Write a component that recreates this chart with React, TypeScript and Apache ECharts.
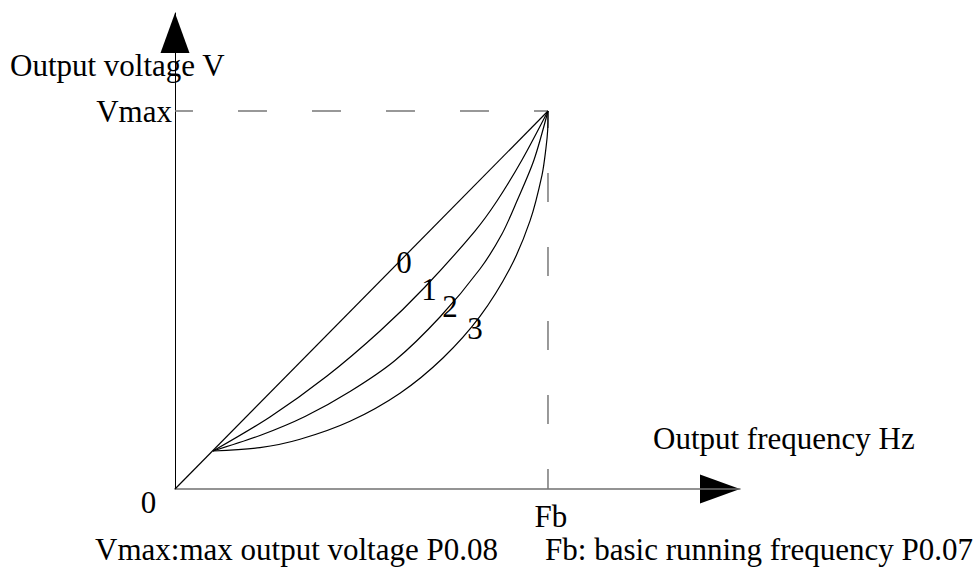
import React, { useEffect, useRef } from 'react';
import * as echarts from 'echarts';

// Axis scale (frequency in Hz, voltage in % of Vmax)
const FB = 50;
const VMAX = 100;
const X_MAX = 75.74;
const Y_MAX = 125.93;

const xTickLabels: Record<number, string> = { 50: 'Fb' };
const yTickLabels: Record<number, string> = { 100: 'Vmax' };

// V/F curves
const curve0 = [[0, 0], [50, 100]];
const curve1 = [
  [5.09, 10.05], [12.73, 19.05], [20.38, 29.89], [27.48, 41.8], [33.51, 53.44],
  [40.21, 68.25], [43.16, 76.19], [46.51, 87.04], [50, 100],
];
const curve2 = [
  [5.09, 10.05], [11.39, 14.15], [17.43, 19.18], [23.46, 25.79], [29.49, 34.0],
  [35.52, 45.5], [40.88, 58.2], [43.83, 67.46], [45.84, 76.19], [48.12, 87.04], [50, 100],
];
const curve3 = [
  [5.09, 10.05], [11.39, 10.93], [16.76, 13.15], [23.46, 17.91], [30.16, 25.34],
  [35.92, 34.66], [40.88, 45.66], [44.91, 58.39], [47.59, 70.93], [49.2, 83.07],
  [49.73, 90.21], [49.96, 95.0], [50, 100],
];

const curveNames = ['0', '1', '2', '3'];
const curveLabelPos = [[30.7, 59.8], [34.05, 52.9], [36.86, 48.15], [40.21, 42.33]];

const dashH = [[FB, VMAX], [0, VMAX]];
const dashV = [[FB, 0], [FB, VMAX]];

const yAxisName = 'Output voltage V';
const xAxisName = 'Output frequency Hz';
const originLabel = '0';
const note1 = 'Vmax:max output voltage P0.08';
const note2 = 'Fb: basic running frequency P0.07';

const FONT = "'Liberation Serif', 'Times New Roman', serif";
const FS = 31;
const LH = 24;

export default function App() {
  const ref = useRef<HTMLDivElement>(null);

  useEffect(() => {
    if (!ref.current) return;
    const chart = echarts.init(ref.current, null, { renderer: 'svg' });
    const curveStyle = { color: '#000', width: 1.2 };
    const dashStyle = { color: '#777', width: 1.5, type: [29, 45] as number[] };

    chart.setOption({
      animation: false,
      grid: { left: 175, top: 13, right: 236, bottom: 85, containLabel: false, outerBoundsMode: 'none' },
      xAxis: {
        type: 'value', min: 0, max: X_MAX, interval: 50,
        axisLine: { show: true, lineStyle: { color: '#707070', width: 1.5 } },
        axisTick: { show: false },
        splitLine: { show: false },
        axisLabel: {
          formatter: (v: number) => xTickLabels[v] ?? '',
          fontFamily: FONT, fontSize: FS, lineHeight: LH, color: '#000', margin: 15, padding: [0, 0, 0, 6],
        },
      },
      yAxis: {
        type: 'value', min: 0, max: Y_MAX, interval: 100,
        axisLine: {
          show: true, lineStyle: { color: '#000', width: 1 },
          symbol: ['none', 'triangle'], symbolSize: [29, 40], symbolOffset: [0, -20],
        },
        axisTick: { show: false },
        splitLine: { show: false },
        axisLabel: {
          formatter: (v: number) => yTickLabels[v] ?? '',
          fontFamily: FONT, fontSize: FS, lineHeight: LH, color: '#000', margin: 3,
        },
      },
      series: [
        { type: 'line', data: dashH, symbol: 'none', silent: true, lineStyle: { ...dashStyle, dashOffset: 15 } },
        { type: 'line', data: dashV, symbol: 'none', silent: true, lineStyle: { ...dashStyle, dashOffset: 9 } },
        { type: 'line', data: curve0, symbol: 'none', silent: true, lineStyle: curveStyle },
        { type: 'line', data: curve1, symbol: 'none', smooth: 0.3, silent: true, lineStyle: curveStyle },
        { type: 'line', data: curve2, symbol: 'none', smooth: 0.3, silent: true, lineStyle: curveStyle },
        { type: 'line', data: curve3, symbol: 'none', smooth: 0.3, silent: true, lineStyle: curveStyle },
        {
          type: 'scatter', symbolSize: 0, silent: true,
          itemStyle: { color: '#000', opacity: 1 },
          data: curveNames.map((n, i) => ({ name: n, value: curveLabelPos[i] })),
          label: {
            show: true, position: 'inside', formatter: (p: any) => p.name,
            fontFamily: FONT, fontSize: FS, lineHeight: LH, color: '#000',
            textBorderWidth: 0, textBorderColor: 'transparent',
          },
        },
      ],
    });

    const tip = chart.convertToPixel({ gridIndex: 0 }, [X_MAX, 0]) as number[];
    const origin = chart.convertToPixel({ gridIndex: 0 }, [0, 0]) as number[];
    const textStyle = { fontFamily: FONT, fontSize: FS, lineHeight: LH, fill: '#000', verticalAlign: 'middle' };

    chart.setOption({
      graphic: [
        {
          type: 'polygon', silent: true,
          shape: { points: [[tip[0], tip[1]], [tip[0] - 40, tip[1] - 14.5], [tip[0] - 40, tip[1] + 14.5]] },
          style: { fill: '#000' },
        },
        { type: 'text', x: 10, y: 65.5, style: { ...textStyle, text: yAxisName, align: 'left' } },
        { type: 'text', x: 653, y: 438, style: { ...textStyle, text: xAxisName, align: 'left' } },
        { type: 'text', x: origin[0] - 26.5, y: origin[1] + 13.5, style: { ...textStyle, text: originLabel, align: 'center' } },
        { type: 'text', x: 498, y: 549.5, style: { ...textStyle, text: note1, align: 'right' } },
        { type: 'text', x: 973, y: 549.5, style: { ...textStyle, text: note2, align: 'right' } },
      ],
    });

    return () => chart.dispose();
  }, []);

  return (
    <div
      ref={ref}
      style={{ position: 'absolute', left: 0, top: 0, width: 976, height: 574, background: '#fff' }}
    />
  );
}
